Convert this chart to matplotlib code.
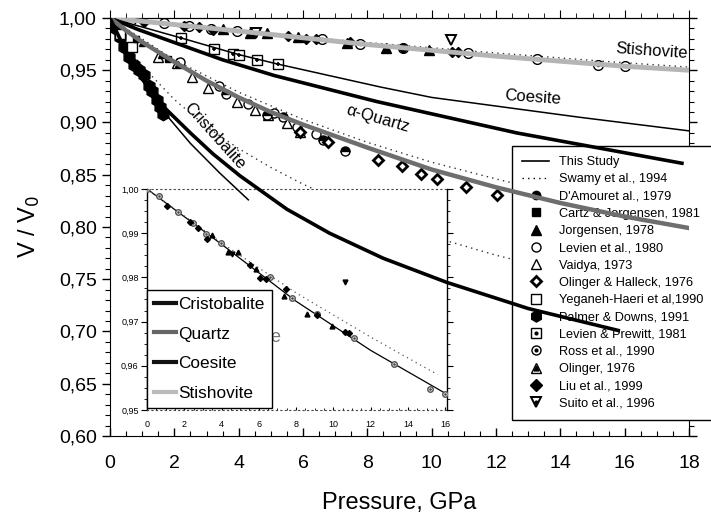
import matplotlib
matplotlib.use('Agg')
import matplotlib.pyplot as plt
from matplotlib.lines import Line2D
from matplotlib.ticker import MultipleLocator, FuncFormatter, FixedLocator

plt.rcParams['font.family'] = ['Liberation Sans', 'DejaVu Sans']

# ---------------- data ----------------
# "This Study" curves
cri_p = [0, 0.5, 1, 1.7, 2.5, 3.2, 4.04, 5.5, 6.83, 8.5, 10.47, 13, 15.8]
cri_v = [1, 0.968, 0.943, 0.914, 0.89, 0.87, 0.849, 0.817, 0.794, 0.77, 0.747, 0.722, 0.701]
cri2_p = [0, 0.5, 1, 1.62, 2.5, 3.4, 4.3]
cri2_v = [1, 0.966, 0.940, 0.912, 0.880, 0.852, 0.826]
qtz_p = [0, 0.5, 1, 2, 3, 4, 5, 6, 8, 10, 12, 14, 16, 18]
qtz_v = [1, 0.988, 0.977, 0.958, 0.940, 0.924, 0.910, 0.898, 0.876, 0.855, 0.838, 0.823, 0.810, 0.799]
coe_p = [0, 0.87, 3.5, 5.1, 8.3, 12.65, 17.78]
coe_v = [1, 0.989, 0.960, 0.945, 0.920, 0.890, 0.861]
coe2_p = [0, 2.2, 4, 5.2, 8.4, 10, 14.6, 18]
coe2_v = [1, 0.981, 0.965, 0.956, 0.934, 0.924, 0.905, 0.892]
sti_p = [0, 4, 8, 12, 16, 18]
sti_v = [1, 0.9875, 0.9746, 0.9635, 0.9538, 0.950]

# Swamy et al., 1994 (dotted)
sw_cri_p = [0, 0.5, 1, 2, 3, 4, 5, 6, 8, 10, 12, 14, 16]
sw_cri_v = [1, 0.974, 0.954, 0.922, 0.896, 0.875, 0.857, 0.841, 0.813, 0.791, 0.773, 0.758, 0.745]
sw_qtz_p = [0, 2, 4, 6, 8, 10, 12, 14, 16]
sw_qtz_v = [1, 0.960, 0.929, 0.903, 0.881, 0.862, 0.846, 0.831, 0.818]
sw_sti_p = [0, 4, 8, 12, 15.6, 18]
sw_sti_v = [1, 0.9878, 0.9765, 0.9665, 0.958, 0.953]

# experimental data
ross_p = [0, 0.65, 1.67, 2.46, 3.15, 3.96, 6.58, 7.78, 9.12, 11.13, 13.28, 15.18, 16.0]
ross_v = [1.0, 0.9984, 0.9948, 0.9923, 0.9899, 0.9877, 0.9802, 0.9754, 0.9717, 0.9663, 0.9604, 0.9548, 0.9536]
liu_p = [1.06, 2.31, 2.76, 3.21, 5.54, 6.08, 6.4, 7.46, 9.1, 10.64, 10.82]
liu_v = [0.9962, 0.9926, 0.9911, 0.9886, 0.9827, 0.9799, 0.9797, 0.9774, 0.9715, 0.9677, 0.9674]
oli_p = [3.51, 4.36, 4.87, 5.84, 7.37, 8.58, 9.93]
oli_v = [0.9897, 0.9858, 0.9858, 0.9820, 0.9757, 0.9717, 0.9689]
sui_p = [4.55, 10.61]
sui_v = [0.9852, 0.9789]

vai_p = [1.49, 2.08, 2.55, 3.05, 3.95, 4.5, 4.9, 5.5, 5.9]
vai_v = [0.963, 0.957, 0.944, 0.933, 0.920, 0.912, 0.907, 0.8995, 0.891]
lev_p = [2.18, 3.4, 4.3, 5.1, 5.8, 6.4]
lev_v = [0.958, 0.935, 0.918, 0.909, 0.896, 0.889]
dam_p = [3.6, 4.88, 5.38, 6.62, 7.3]
dam_v = [0.927, 0.907, 0.9055, 0.883, 0.873]
olh_p = [5.9, 6.78, 8.33, 9.08, 9.67, 10.16, 11.07, 12.03]
olh_v = [0.891, 0.881, 0.864, 0.858, 0.851, 0.846, 0.838, 0.831]
jor_p = [1.0, 1.6, 2.1]
jor_v = [0.976, 0.965, 0.956]
car_p = [0.8, 1.8]
car_v = [0.980, 0.961]
lpr_p = [2.21, 3.23, 3.83, 4.0, 4.56, 5.21]
lpr_v = [0.9806, 0.970, 0.9656, 0.965, 0.960, 0.9557]
pal_p = [0.15, 0.3, 0.45, 0.6, 0.75, 0.9, 1.05, 1.2, 1.3, 1.45, 1.55, 1.65]
pal_v = [0.99, 0.982, 0.972, 0.963, 0.955, 0.95, 0.945, 0.935, 0.93, 0.922, 0.915, 0.908]
yeg_p = [0.3, 0.68]
yeg_v = [0.985, 0.9725]

main_xticks = [0, 2, 4, 6, 8, 10, 12, 14, 16, 18]
main_yticks = [0.60, 0.65, 0.70, 0.75, 0.80, 0.85, 0.90, 0.95, 1.00]
inset_xticks = [0, 2, 4, 6, 8, 10, 12, 14, 16]
inset_yticks = [0.95, 0.96, 0.97, 0.98, 0.99, 1.00]

legend_labels = ["This Study", "Swamy et al., 1994", "D'Amouret al., 1979",
                 "Cartz & Jorgensen, 1981", "Jorgensen, 1978", "Levien et al., 1980",
                 "Vaidya, 1973", "Olinger & Halleck, 1976", "Yeganeh-Haeri et al,1990",
                 "Palmer & Downs, 1991", "Levien & Prewitt, 1981", "Ross et al., 1990",
                 "Olinger, 1976", "Liu et al., 1999", "Suito et al., 1996"]
inset_legend_labels = ["Cristobalite", "Quartz", "Coesite", "Stishovite"]

# ---------------- styles ----------------
W, H = 711, 518
fig = plt.figure(figsize=(W / 100, H / 100), dpi=100)
DOT = (0, (1, 3))
comma = FuncFormatter(lambda v, _: f"{v:.2f}".replace('.', ','))

def fr(x0, y0, x1, y1):
    return [x0 / W, 1 - y1 / H, (x1 - x0) / W, (y1 - y0) / H]

ax = fig.add_axes(fr(110, 18, 689, 436))
ax.set_xlim(0, 18)
ax.set_ylim(0.60, 1.00)
ax.xaxis.set_major_locator(FixedLocator(main_xticks))
ax.xaxis.set_minor_locator(MultipleLocator(0.5))
ax.yaxis.set_major_locator(FixedLocator(main_yticks))
ax.yaxis.set_minor_locator(MultipleLocator(0.01))
ax.yaxis.set_major_formatter(comma)
ax.tick_params(axis='x', which='both', direction='in', labelsize=14, pad=14)
ax.tick_params(axis='y', which='both', direction='out', right=True, labelsize=14)
ax.tick_params(which='major', length=6, width=1)
ax.tick_params(which='minor', length=3.5, width=0.8)
sec = ax.secondary_xaxis('top')
sec.xaxis.set_major_locator(FixedLocator(main_xticks))
sec.xaxis.set_minor_locator(MultipleLocator(0.5))
sec.tick_params(which='both', direction='out', labeltop=False)
sec.tick_params(which='major', length=6)
sec.tick_params(which='minor', length=3.5)
ax.set_xlabel("Pressure, GPa", fontsize=17, labelpad=14)
ax.set_ylabel("V / V$_0$", fontsize=17, labelpad=12)

# dotted Swamy curves
for p, v in [(sw_cri_p, sw_cri_v), (sw_qtz_p, sw_qtz_v), (sw_sti_p, sw_sti_v)]:
    ax.plot(p, v, color='#333333', lw=1.0, ls=DOT, zorder=2)

# experimental data in main panel
ms = 6.5
ax.plot(pal_p, pal_v, 'h', color='black', ms=9, zorder=3)
ax.plot(yeg_p, yeg_v, 's', mfc='white', mec='black', ms=ms, zorder=3)
ax.plot(vai_p, vai_v, '^', mfc='white', mec='black', ms=ms, zorder=3)
ax.plot(lev_p, lev_v, 'o', mfc='white', mec='black', ms=ms, zorder=3)
ax.plot(dam_p, dam_v, 'o', color='black', fillstyle='top', mfc='black', mfcalt='white', ms=ms, zorder=3)
ax.plot(olh_p, olh_v, 'D', mfc='white', mec='black', mew=2, ms=5.5, zorder=3)
ax.plot(jor_p, jor_v, '^', color='black', ms=5, zorder=3)
ax.plot(car_p, car_v, 's', color='black', ms=5, zorder=3)
ax.plot(lpr_p, lpr_v, 's', mfc='white', mec='black', ms=7, zorder=3)
ax.plot(lpr_p, lpr_v, '+', color='black', ms=3.5, mew=1.2, zorder=3)
ax.plot(ross_p, ross_v, 'o', mfc='white', mec='black', ms=7, zorder=3)
ax.plot(ross_p, ross_v, '.', color='black', ms=3, zorder=3)
ax.plot(oli_p, oli_v, '^', color='black', ms=ms, zorder=3)
ax.plot(liu_p, liu_v, 'D', color='black', ms=5.5, zorder=3)
ax.plot(sui_p, sui_v, 'v', mfc='white', mec='black', mew=1.4, ms=7, zorder=3)

# labels
ax.text(16.85, 0.968, "Stishovite", fontsize=12, rotation=-4, ha='center', va='center', zorder=5)
ax.text(13.15, 0.924, "Coesite", fontsize=12, rotation=-4, ha='center', va='center', zorder=5)
ax.text(8.33, 0.904, "α-Quartz", fontsize=12, rotation=-16, ha='center', va='center', zorder=5)
ax.text(3.25, 0.887, "Cristobalite", fontsize=12, rotation=-48, ha='center', va='center', zorder=5)

# main legend
def hl(**kw):
    return Line2D([], [], ls='none', **kw)
handles = [
    Line2D([], [], color='black', lw=1.2),
    Line2D([], [], color='black', lw=1.0, ls=DOT),
    hl(marker='o', color='black', fillstyle='top', mfc='black', mfcalt='white', ms=6),
    hl(marker='s', color='black', ms=6),
    hl(marker='^', color='black', ms=6.5),
    hl(marker='o', mfc='white', mec='black', ms=6.5),
    hl(marker='^', mfc='white', mec='black', ms=6.5),
    hl(marker='D', mfc='white', mec='black', mew=2, ms=5.5),
    hl(marker='s', mfc='white', mec='black', ms=6.5),
    hl(marker='h', color='black', ms=8),
    (hl(marker='s', mfc='white', mec='black', ms=6.5), hl(marker='.', color='black', ms=4)),
    (hl(marker='o', mfc='white', mec='black', ms=6.5), hl(marker='.', color='black', ms=4)),
    (hl(marker='^', mfc='white', mec='black', ms=7), hl(marker='^', color='black', ms=3.5)),
    hl(marker='D', color='black', ms=6),
    (hl(marker='v', mfc='white', mec='black', mew=1.4, ms=7), hl(marker='.', color='black', ms=4)),
]
leg = ax.legend(handles, legend_labels, loc='upper left',
                bbox_to_anchor=(512 / W, 1 - 146 / H), bbox_transform=fig.transFigure,
                fontsize=9.2, frameon=True, fancybox=False, edgecolor='black',
                framealpha=1, borderpad=0.8, labelspacing=0.41, handlelength=2.1,
                handletextpad=0.75, borderaxespad=0)
leg.get_frame().set_linewidth(1.0)
leg.set_zorder(6)

# ---------------- inset ----------------
ax_in = fig.add_axes(fr(147, 189, 447, 410), zorder=3)
ax_in.set_facecolor('white')
ax_in.set_xlim(0, 16.1)
ax_in.set_ylim(0.95, 1.0)
ax_in.xaxis.set_major_locator(FixedLocator(inset_xticks))
ax_in.yaxis.set_major_locator(FixedLocator(inset_yticks))
ax_in.yaxis.set_minor_locator(MultipleLocator(0.0025))
ax_in.xaxis.set_minor_locator(MultipleLocator(0.5))
ax_in.yaxis.set_major_formatter(comma)
ax_in.xaxis.set_major_formatter(FuncFormatter(lambda v, _: f"{v:.0f}"))
ax_in.tick_params(axis='y', which='both', direction='out', labelsize=6.5, right=True, pad=2)
ax_in.tick_params(axis='y', which='major', length=4)
ax_in.tick_params(axis='y', which='minor', length=2.5)
ax_in.tick_params(axis='x', which='both', direction='in', labelsize=6.5, pad=7)
ax_in.tick_params(axis='x', which='major', length=2.5)
ax_in.tick_params(axis='x', which='minor', length=1.5)
for s in ['top', 'bottom']:
    ax_in.spines[s].set_linestyle(DOT)
    ax_in.spines[s].set_color('#444444')
ax_in.spines['left'].set_linewidth(1.0)
ax_in.spines['right'].set_linewidth(1.0)

ax_in.plot(sti_p, sti_v, color='black', lw=0.9, zorder=3)
ax_in.plot(sw_sti_p[:-1], sw_sti_v[:-1], color='#555555', lw=0.9, ls=DOT, zorder=3)
ax_in.plot(ross_p, ross_v, 'o', mfc='#dddddd', mec='#555555', ms=4, zorder=4)
ax_in.plot(ross_p, ross_v, '.', color='#444444', ms=1.5, zorder=4)
ax_in.plot(liu_p, liu_v, 'D', color='black', ms=3, zorder=4)
ax_in.plot(oli_p, oli_v, '^', color='black', ms=3.5, zorder=4)
ax_in.plot(sui_p, sui_v, 'v', color='black', ms=3.5, zorder=4)
# last letter of a label peeking out behind the inset legend
ax_in.text(0.445, 0.33, "e", transform=ax_in.transAxes, fontsize=13,
           color='#777777', ha='right', va='center', zorder=2)

in_handles = [Line2D([], [], color='#111111', lw=3),
              Line2D([], [], color='#666666', lw=3),
              Line2D([], [], color='#111111', lw=3),
              Line2D([], [], color='#bbbbbb', lw=3)]
leg_in = ax_in.legend(in_handles, inset_legend_labels, loc='lower left',
                      bbox_to_anchor=(0.0, 0.01), fontsize=12.4, frameon=True,
                      fancybox=False, edgecolor='black', framealpha=1,
                      borderpad=0.4, labelspacing=0.85, handlelength=1.3,
                      handletextpad=0.12, borderaxespad=0)
leg_in.get_frame().set_linewidth(1.0)
leg_in.set_zorder(6)

# ---------------- overlay: "This Study" curves drawn over inset and legend ----------------
ov = fig.add_axes(fr(110, 18, 689, 436), zorder=5)
ov.set_xlim(0, 18)
ov.set_ylim(0.60, 1.00)
ov.axis('off')
ov.patch.set_alpha(0)
ov.plot(sti_p, sti_v, color='#b5b5b5', lw=3.5, solid_capstyle='butt')
ov.plot(coe2_p, coe2_v, color='black', lw=1.1)
ov.plot(coe_p, coe_v, color='black', lw=2.6)
ov.plot(qtz_p, qtz_v, color='#6e6e6e', lw=3.2)
ov.plot(cri2_p, cri2_v, color='black', lw=1.1)
ov.plot(cri_p, cri_v, color='black', lw=2.6)

fig.savefig('out.png', dpi=100)
